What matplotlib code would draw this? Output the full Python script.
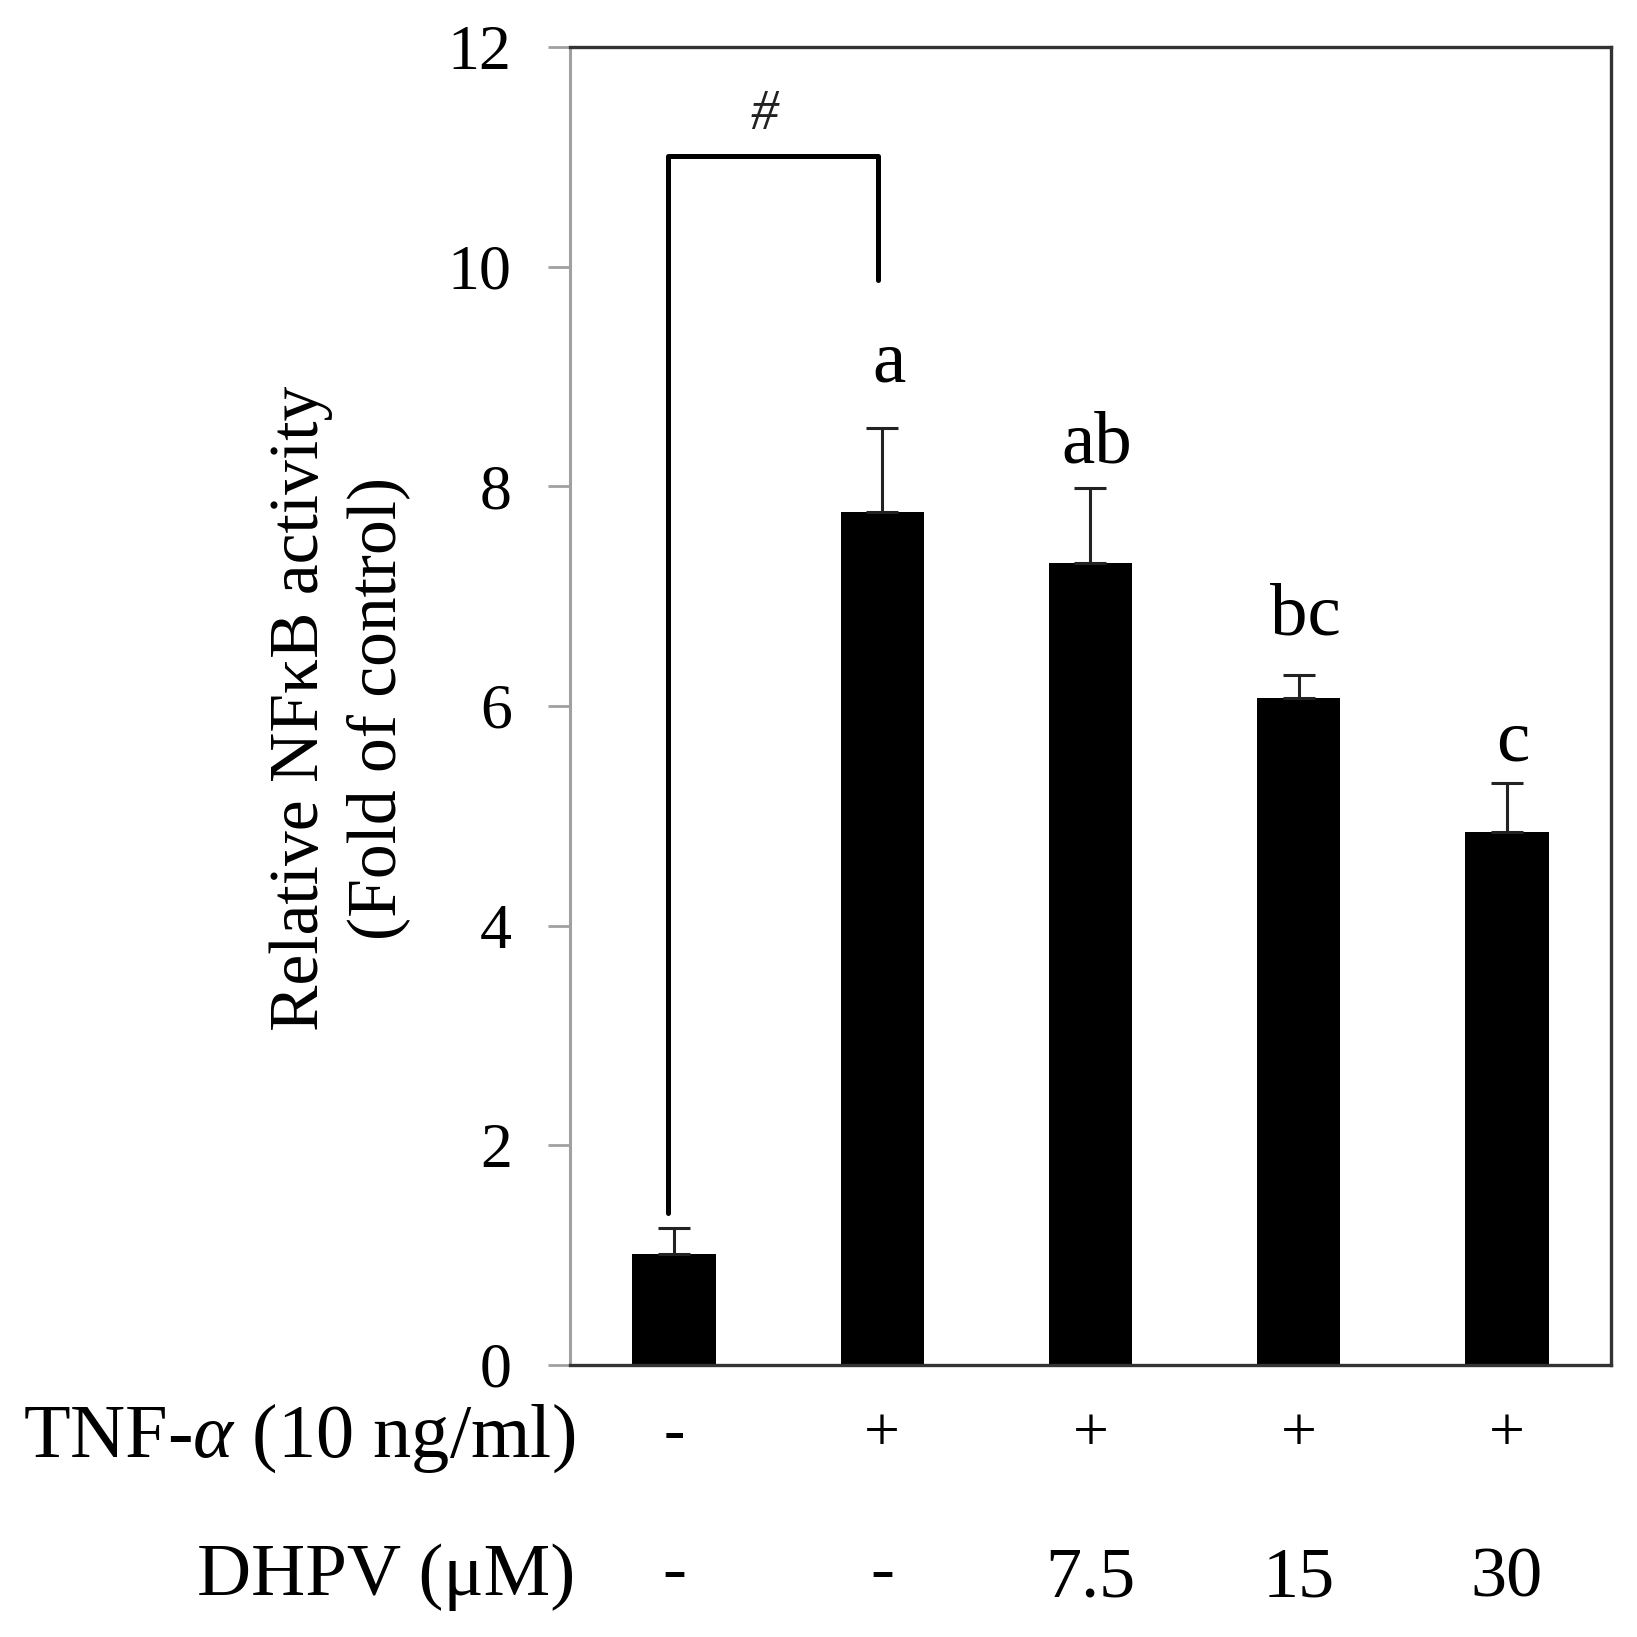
import numpy as np
import matplotlib
matplotlib.use("Agg")
import matplotlib.pyplot as plt
from matplotlib.transforms import blended_transform_factory

plt.rcParams["font.family"] = "Liberation Serif"
plt.rcParams["mathtext.fontset"] = "custom"
plt.rcParams["mathtext.rm"] = "Liberation Serif"
plt.rcParams["mathtext.it"] = "Liberation Serif:italic"

# ---- data ----
groups = ["ctrl", "tnf", "dhpv7.5", "dhpv15", "dhpv30"]
means = [1.01, 7.77, 7.30, 6.07, 4.85]
sds = [0.24, 0.76, 0.68, 0.21, 0.45]
letters = ["", "a", "ab", "bc", "c"]
letter_y = [0, 8.95, 8.22, 6.65, 5.5]
tnf_row = ["-", "+", "+", "+", "+"]
dhpv_row = ["-", "-", "7.5", "15", "30"]
bracket_left, bracket_top, bracket_right = 1.38, 11.01, 9.88

fig = plt.figure(figsize=(16.37, 16.37), dpi=100)
ax = fig.add_axes([0.3482, 0.1662, 0.9841 - 0.3482, 0.9713 - 0.1662])

x = np.arange(len(groups))
ax.bar(x, means, width=0.4, color="black", zorder=2)
ax.errorbar(x, means, yerr=[np.zeros(len(sds)), sds], fmt="none",
            ecolor="#222222", elinewidth=2.2, capsize=11.5, capthick=2.2, zorder=3)

for xi, lab, ly in zip(x, letters, letter_y):
    if lab:
        ax.text(xi + 0.03, ly, lab, ha="center", va="baseline", fontsize=54)

# significance bracket between control and TNF
bx0, bx1 = x[0] - 0.03, x[1] - 0.02
ax.plot([bx0, bx0, bx1, bx1], [bracket_left, bracket_top, bracket_top, bracket_right],
        color="black", lw=3.6, solid_joinstyle="round", solid_capstyle="round", zorder=4)
ax.text((bx0 + bx1) / 2 - 0.04, 11.38, "#", ha="center", va="center",
        fontsize=40, style="italic", color="#222222")

ax.set_xlim(-0.5, 4.5)
ax.set_ylim(0, 12)
ax.set_yticks(range(0, 13, 2))
ax.set_xticks([])
ax.tick_params(axis="y", direction="out", length=16, width=2, color="#a0a0a0",
               labelsize=46, pad=26)

ax.spines["left"].set_color("#a0a0a0")
ax.spines["left"].set_linewidth(2.2)
for s in ["top", "right", "bottom"]:
    ax.spines[s].set_color("#333333")
    ax.spines[s].set_linewidth(2.4)

# y label (two centred lines)
fig.text(0.2075, 0.5675, "Relative NF\u03baB activity\n(Fold of control)",
         rotation=90, ha="center", va="center", fontsize=50,
         linespacing=1.28, multialignment="center")

# treatment table below the axis
tr = blended_transform_factory(ax.transData, fig.transFigure)
fig.text(0.3513, 0.110, "TNF-$\\alpha$ (10 ng/ml)", ha="right", va="baseline", fontsize=55)
fig.text(0.3513, 0.0257, "DHPV (\u03bcM)", ha="right", va="baseline", fontsize=54)
for xi, t, d in zip(x, tnf_row, dhpv_row):
    ax.text(xi, 0.1225, t, transform=tr, ha="center", va="center", fontsize=46)
    if d == "-":
        ax.text(xi, 0.0385, d, transform=tr, ha="center", va="center", fontsize=52)
    else:
        ax.text(xi, 0.0245, d, transform=tr, ha="center", va="baseline", fontsize=52)

fig.savefig("out.png", dpi=100, facecolor="white")
